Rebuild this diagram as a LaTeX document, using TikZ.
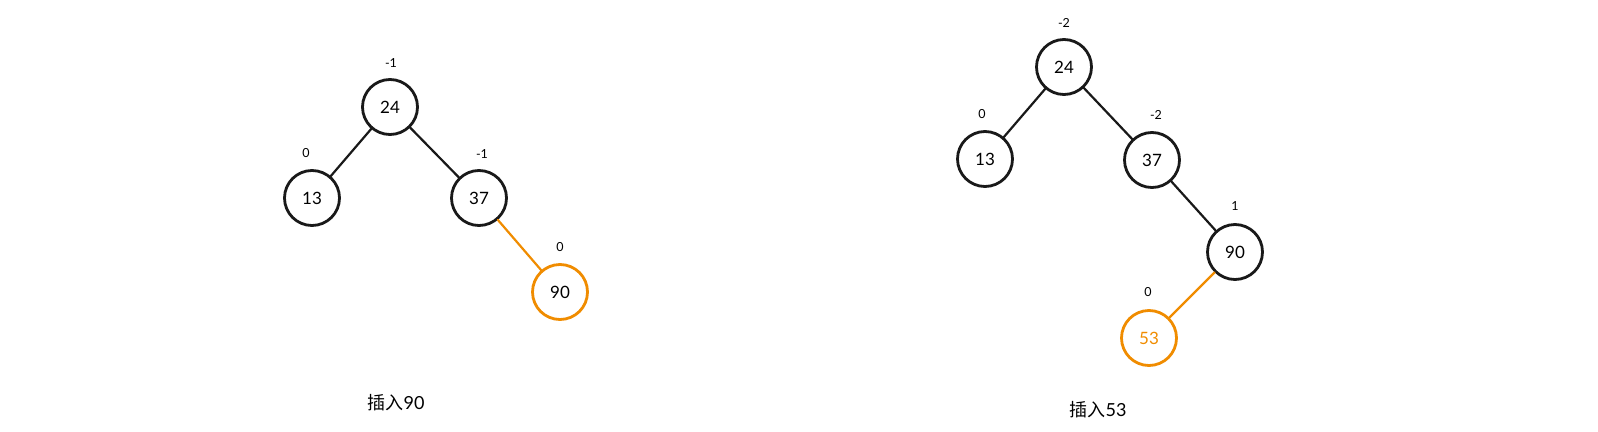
\documentclass[tikz,border=0pt]{standalone}
\usepackage{fontspec}
\setmainfont{Lato}
\newfontfamily\cjk{Noto Sans CJK SC}
\definecolor{insorange}{HTML}{F08C00}
\begin{document}
\begin{tikzpicture}[x=1pt,y=-1pt, line join=round, line cap=round,
		knot/.style={circle, draw=black!90, line width=2.8pt, minimum size=55pt, inner sep=0pt, font=\fontsize{17}{17}\selectfont},
		newknot/.style={knot, draw=insorange},
		bal/.style={font=\fontsize{12.5}{12.5}\selectfont},
		edge/.style={line width=2.2pt, black!90},
		caption/.style={font=\fontsize{18}{18}\selectfont}]
	\useasboundingbox (0,0) rectangle (1598,431);
	% left tree: insert 90
	\node[knot] (a24) at (390,107) {24};
	\node[knot] (a13) at (312,198) {13};
	\node[knot] (a37) at (479,198) {37};
	\node[newknot] (a90) at (560,292) {90};
	\node[bal] (ba24) at (391,63) {-1};
	\node[bal] (ba13) at (306,153) {0};
	\node[bal] (ba37) at (482,154) {-1};
	\node[bal] (ba90) at (560,247) {0};
	\draw[edge] (a24) -- (a13);
	\draw[edge] (a24) -- (a37);
	\draw[edge, insorange] (a37) -- (a90);
	\node[caption] (capa) at (396,403) {{\cjk 插入}90};
	% right tree: insert 53
	\node[knot] (b24) at (1064,67) {24};
	\node[knot] (b13) at (985,159) {13};
	\node[knot] (b37) at (1152,160) {37};
	\node[knot] (b90) at (1235,252) {90};
	\node[newknot, text=insorange] (b53) at (1149,338) {53};
	\node[bal] (bb24) at (1064,23) {-2};
	\node[bal] (bb13) at (982,114) {0};
	\node[bal] (bb37) at (1156,115) {-2};
	\node[bal] (bb90) at (1235,206) {1};
	\node[bal] (bb53) at (1148,292) {0};
	\draw[edge] (b24) -- (b13);
	\draw[edge] (b24) -- (b37);
	\draw[edge] (b37) -- (b90);
	\draw[edge, insorange] (b90) -- (b53);
	\node[caption] (capb) at (1098,410) {{\cjk 插入}53};
\end{tikzpicture}
\end{document}
